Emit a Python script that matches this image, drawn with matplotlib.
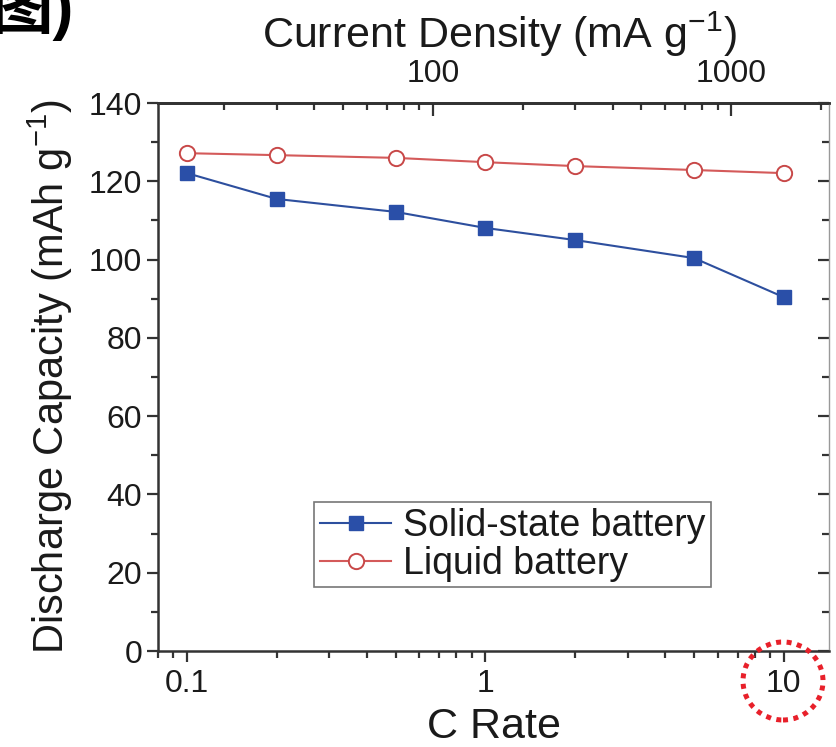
import matplotlib
matplotlib.use("Agg")
import matplotlib.pyplot as plt
import matplotlib.ticker as ticker
from matplotlib.patches import Ellipse

plt.rcParams['font.family'] = ['Liberation Sans', 'Noto Sans CJK SC']
plt.rcParams['mathtext.fontset'] = 'custom'
plt.rcParams['mathtext.rm'] = 'Liberation Sans'
plt.rcParams['mathtext.default'] = 'regular'

# Data
c_rate = [0.1, 0.2, 0.5, 1, 2, 5, 10]
solid_state = [122.1, 115.5, 112.2, 108.1, 105.0, 100.4, 90.4]
liquid = [127.2, 126.7, 126.0, 124.9, 123.9, 122.9, 122.1]
mah_per_c = 150  # 1C in mA g-1 (top axis)

txt = '#1a1a1a'

fig = plt.figure(figsize=(8.36, 7.47), dpi=100)
ax = fig.add_axes([0.189, 0.1285, 0.803, 0.7335])

ax.plot(c_rate, solid_state, '-s', color='#2d4f9e', mfc='#2a4fa8', mec='#2a4fa8',
        lw=1.5, ms=10, label='Solid-state battery')
ax.plot(c_rate, liquid, '-o', color='#d45a5a', mfc='white', mec='#c84848',
        mew=1.4, lw=1.5, ms=11, label='Liquid battery')

ax.set_xscale('log')
ax.set_xlim(0.08, 14.2)
ax.set_ylim(0, 140)
ax.set_yticks(range(0, 141, 20))
ax.yaxis.set_minor_locator(ticker.MultipleLocator(10))
ax.xaxis.set_major_formatter(ticker.FormatStrFormatter('%g'))
ax.xaxis.set_minor_formatter(ticker.NullFormatter())

for s in ax.spines.values():
    s.set_linewidth(1.8)
    s.set_color('#333333')
ax.spines['right'].set_color('#999999')
ax.spines['right'].set_linewidth(1.0)

ax.tick_params(which='both', direction='out', width=1.6, colors='#333333',
               labelsize=23, labelcolor=txt)
ax.tick_params(which='major', length=8)
ax.tick_params(which='minor', length=5)
ax.tick_params(axis='x', pad=5)

ax.set_xlabel('C Rate', fontsize=31, labelpad=6, color=txt)
ax.set_ylabel('Discharge Capacity (mAh g$^{-1}$)', fontsize=30, labelpad=10,
              color=txt)

# top axis: current density, ticks pointing inward
top = ax.secondary_xaxis('top', functions=(lambda c: c * mah_per_c,
                                           lambda d: d / mah_per_c))
top.xaxis.set_major_formatter(ticker.FormatStrFormatter('%g'))
top.xaxis.set_minor_formatter(ticker.NullFormatter())
top.tick_params(which='both', direction='in', width=1.6, colors='#333333',
                labelsize=23, labelcolor=txt, pad=10)
top.tick_params(which='major', length=9)
top.tick_params(which='minor', length=5)
top.spines['top'].set_linewidth(1.8)
fig.text(499 / 836, 1 - 48 / 747, 'Current Density (mA g$^{-1}$)',
         fontsize=31, color=txt, ha='center', va='baseline')

# right axis: ticks only
right = ax.secondary_yaxis('right')
right.yaxis.set_minor_locator(ticker.MultipleLocator(10))
right.tick_params(which='both', direction='in', width=1.6, colors='#333333',
                  labelright=False)
right.tick_params(which='major', length=8)
right.tick_params(which='minor', length=5)
right.spines['right'].set_visible(False)

leg = ax.legend(loc='lower left', bbox_to_anchor=(0.233, 0.116), fontsize=27,
                frameon=True, fancybox=False, handlelength=1.9,
                handletextpad=0.3, borderpad=0.15, labelspacing=0.05,
                borderaxespad=0)
leg.get_frame().set_edgecolor('#555555')
leg.get_frame().set_linewidth(1.2)
for t in leg.get_texts():
    t.set_color(txt)

# cropped caption fragment at top-left
fig.text(74 / 836, 1.03, '图)', fontsize=45, fontweight='bold',
         ha='right', va='top', color='black')

# red dotted highlight around the 10C label
fig.patches.append(Ellipse((783 / 836, 1 - 681 / 747), 80 / 836, 78 / 747,
                           transform=fig.transFigure, fill=False,
                           edgecolor='#e8202a', lw=3.6,
                           linestyle=(0, (1, 1.1))))

fig.savefig('out.png', dpi=100)
